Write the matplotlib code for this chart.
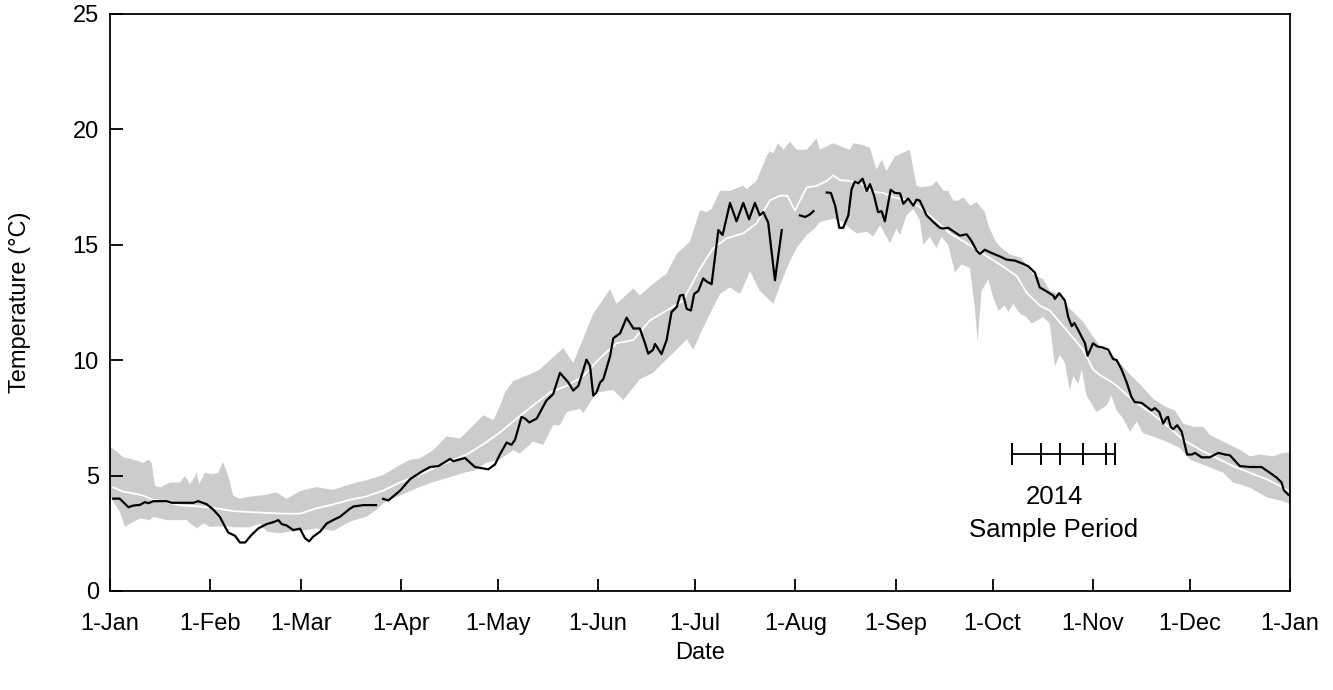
import numpy as np
import matplotlib
matplotlib.use("Agg")
import matplotlib.pyplot as plt

plt.rcParams["font.family"] = ["Liberation Sans", "DejaVu Sans"]

# Month starts (day of year) and their labels
month_days = [0, 31, 59, 90, 120, 151, 181, 212, 243, 273, 304, 334, 365]
month_labels = ["1-Jan", "1-Feb", "1-Mar", "1-Apr", "1-May", "1-Jun", "1-Jul",
                "1-Aug", "1-Sep", "1-Oct", "1-Nov", "1-Dec", "1-Jan"]

# 2014 daily temperature (NaN marks logger gaps)
obs_day = [1, 3, 5.7, 7.2, 9.3, 10.8, 11.9, 13.4, 17.5, 19.1, 25.8, 27.3, 29.9, 32, 34,
           35.6, 36.6, 38.7, 40.2, 41.8, 43.8, 45.9, 48.5, 50.5, 52.1, 53.1, 54.6, 56.7,
           58.8, 60.3, 61.6, 62.9, 65, 67, 69, 71.1, 74.2, 75.3, 78.4, 82.3, 83.4,
           84.5, 86.1, 89.7, 92.8, 96.4, 99, 101.6, 105.2, 106.2, 109.8, 112.9, 117,
           119.1, 120.6, 122.7, 124.2, 125.3, 127.3, 128.4, 129.7, 132, 135, 137.1,
           139.2, 141.8, 143.3, 144.9, 147.4, 148.5, 149.5, 150.5, 151.6, 152.6, 154.7,
           155.7, 157.8, 159.8, 161.9, 163.9, 165.5, 166.5, 168, 168.6, 170.6, 172.2,
           173.7, 175.3, 176.3, 177.3, 178.4, 179.7, 180.7, 182, 183.5, 184.6, 186.1,
           188.2, 189.5, 191.8, 193.8, 195.9, 197.7, 199.5, 201, 202.1, 203.6, 205.7,
           207.8, 210.5,
           213.4, 215, 216.4, 217.6, 219.5,
           221.7, 223, 224.3, 225.6, 226.8, 228.4, 229.4, 230.4, 231.5, 232.8, 234.1,
           235.1, 236.3, 237.6, 238.7, 239.7, 241.5, 242.8, 244.4, 245.4, 246.9, 248.5,
           249.5, 250.5, 252.6, 254.7, 256.7, 257.7, 259.3, 260.8, 262.9, 265, 266.5,
           268.1, 269.1, 270.6, 272.7, 275.3, 277.4, 279.9, 282.5, 284, 286.1, 287.6,
           289.7, 291.8, 292.3, 293.6, 295.4, 296.4, 297.5, 298.3, 299.5, 301.6, 302.4,
           304.1, 305.4, 307, 308.8, 310.3, 311.4, 312.9, 314.5, 316, 317, 319.1, 322.2,
           323.2, 324.6, 325.8, 326.8, 327.3, 328.1, 328.9, 330.1, 331.5, 333.2, 334.6,
           335.6, 337.7, 340.2, 342.8, 344.9, 346.4, 349.5, 352.6, 356.2, 358.8, 360.9,
           362.4, 363.1, 364.5]
obs_temp = [4.0, 4.0, 3.63, 3.7, 3.73, 3.85, 3.8, 3.89, 3.89, 3.82, 3.82, 3.89, 3.76, 3.52,
            3.21, 2.78, 2.53, 2.39, 2.1, 2.1, 2.43, 2.71, 2.9, 2.98, 3.07, 2.9, 2.84, 2.64,
            2.7, 2.29, 2.15, 2.36, 2.57, 2.92, 3.07, 3.21, 3.56, 3.66, 3.72, 3.72, np.nan,
            3.99, 3.92, 4.34, 4.84, 5.17, 5.37, 5.41, 5.72, 5.62, 5.76, 5.37, 5.27,
            5.48, 5.91, 6.43, 6.33, 6.55, 7.54, 7.47, 7.3, 7.47, 8.25, 8.53,
            9.45, 9.03, 8.68, 8.89, 10.02, 9.74, 8.46, 8.6, 9.03, 9.17, 10.17,
            10.95, 11.16, 11.84, 11.37, 11.37, 10.73, 10.28, 10.45, 10.7, 10.26, 10.87,
            12.08, 12.3, 12.79, 12.83, 12.22, 12.15, 12.86, 13.0, 13.54, 13.4, 13.29,
            15.63, 15.42, 16.81, 16.01, 16.81, 16.1, 16.81, 16.27, 16.41, 15.96, 13.46,
            15.63, np.nan,
            16.27, 16.2, 16.3, 16.45, np.nan,
            17.26, 17.24, 16.7, 15.73, 15.73, 16.27, 17.4, 17.73, 17.66, 17.86, 17.33,
            17.62, 17.15, 16.41, 16.45, 16.01, 17.38, 17.24, 17.22, 16.77, 17.0, 16.69,
            16.95, 16.91, 16.27, 15.98, 15.73, 15.7, 15.73, 15.59, 15.39, 15.45, 15.16,
            14.74, 14.6, 14.78, 14.64, 14.49, 14.35, 14.31, 14.17, 14.07, 13.79, 13.15,
            12.98, 12.79, 12.65, 12.9, 12.58, 11.87, 11.47, 11.61, 11.3, 10.73, 10.19,
            10.73, 10.59, 10.55, 10.45, 10.05, 10.0, 9.6, 9.03, 8.39, 8.18, 8.15, 7.82,
            7.92, 7.75, 7.25, 7.5, 7.54, 7.11, 7.01, 7.18, 6.9, 5.91, 5.91,
            5.98, 5.79, 5.79, 5.98, 5.91, 5.88, 5.41, 5.37, 5.37, 5.12, 4.91,
            4.7, 4.37, 4.17]

# Long-term daily mean
mean_day = [1, 4.1, 7.2, 10.3, 13.4, 17.5, 21.7, 27.8, 30.9, 34, 38.1, 43.3, 48.5, 53.6,
            58.8, 63.9, 69.1, 74.2, 79.4, 84.5, 89.7, 94.9, 100, 105.2, 110.3, 115.5,
            120.6, 125.8, 130.9, 136.1, 141.3, 146.4, 151.6, 156.7, 161.9, 167, 172.2,
            177.3, 182.5, 186.6, 190.8, 195.9, 200, 204.1, 207.2, 209.5, 211.9, 215.5,
            218.6, 221.7, 223.7, 225.8, 228.9, 232, 236.1, 239.2, 242.3, 247.4, 250.5,
            254.7, 259.8, 265, 270.1, 275.3, 280.5, 283.5, 287.6, 290.7, 295.9, 301,
            304.1, 306.2, 309.3, 311.4, 316.5, 321.7, 326.8, 332, 337.2, 342.3, 347.4,
            352.6, 357.8, 362.9, 364.5]
mean_temp = [4.49, 4.3, 4.23, 4.13, 3.95, 3.85, 3.71, 3.66, 3.61, 3.56, 3.46, 3.42, 3.38,
             3.35, 3.35, 3.58, 3.75, 3.95, 4.1, 4.35, 4.7, 4.98, 5.3, 5.63, 5.91, 6.36,
             6.86, 7.47, 8.04, 8.6, 8.89, 9.31, 10.09, 10.73, 10.87, 11.72, 12.15,
             12.58, 13.96, 14.85, 15.28, 15.49, 15.92, 16.91, 17.12, 17.12, 16.48, 17.48,
             17.55, 17.76, 18.0, 17.8, 17.76, 17.69, 17.29, 17.24, 17.05, 16.91, 16.62,
             16.13, 15.49, 15.06, 14.6, 14.14, 13.64, 12.93, 12.36, 12.15, 11.3, 10.45,
             9.6, 9.35, 9.1, 8.89, 8.25, 7.75, 7.18, 6.55, 6.12, 5.76, 5.41,
             5.12, 4.84, 4.48, 4.34]

# Long-term daily maximum
max_day = [0, 2, 4.1, 7.2, 10.3, 11.9, 12.9, 13.9, 15.5, 18.6, 21.7, 23.2, 24.7, 25.8,
           26.8, 27.6, 29.4, 31.5, 33.5, 35, 36.6, 38.1, 40.2, 43.3, 48.5, 51.6, 54.6,
           58.8, 63.9, 69.1, 74.2, 79.4, 84.5, 89.7, 92.8, 95.9, 100, 104.1, 108.3,
           112.4, 115.5, 118.6, 120.6, 122.2, 124.8, 131, 133, 140.2, 143.3, 149.5,
           154.7, 156.7, 161.9, 163.9, 168, 172.2, 175.3, 179.4, 182.5, 184.6, 186.1,
           188.7, 191.8, 195.9, 196.9, 200, 203.1, 204.1, 205.2, 206.7, 208.3, 210.3,
           212.4, 215.5, 218.6, 219.6, 223.7, 228.9, 229.9, 233, 235.1, 237.1, 238.7,
           240.2, 242.8, 247.4, 249.5, 251, 254.2, 255.7, 257.8, 259.3, 260.9, 262.4,
           264, 266, 268.1, 270.6, 271.7, 273.7, 275.3, 278.4, 282, 283.5, 285.6,
           288.7, 290.7, 293.8, 296.4, 298, 301, 304.1, 306.2, 310.3, 312.4, 315.5,
           318.6, 322.7, 326.8, 329.4, 332, 335.1, 338.2, 340.2, 345.4, 349.5, 352.6,
           355.7, 359.8, 362.9, 365]
max_temp = [6.25, 6.05, 5.79, 5.69, 5.55, 5.69, 5.55, 4.56, 4.48, 4.7, 4.7, 4.98, 4.63, 4.84,
            5.12, 4.63, 5.12, 5.06, 5.12, 5.59, 4.98, 4.13, 3.99, 4.09, 4.17, 4.27, 3.99,
            4.33, 4.5, 4.38, 4.62, 4.8, 5.02, 5.45, 5.69, 5.74, 6.1, 6.69, 6.6,
            7.18, 7.61, 7.4, 8.0, 8.6, 9.1, 9.45, 9.6, 10.52, 9.88, 12.01,
            13.07, 12.44, 13.1, 12.8, 13.3, 13.75, 14.6, 15.13, 16.5, 16.41, 16.55,
            17.33, 17.33, 17.55, 17.4, 17.76, 18.82, 19.04, 18.97, 19.39, 19.11, 19.46,
            19.11, 19.11, 19.6, 19.11, 19.39, 19.11, 19.39, 19.32, 19.18, 18.26, 18.68,
            18.19, 18.82, 19.11, 17.55, 17.48, 17.55, 17.76, 17.33, 17.33, 16.91, 16.91,
            17.05, 16.69, 16.84, 16.41, 15.84, 15.2, 14.92, 14.57, 14.43, 14.07, 13.71,
            13.5, 13.0, 12.86, 12.3, 12.08, 11.66, 11.02, 10.62, 10.17, 9.88, 9.38,
            8.96, 8.32, 7.96, 7.82, 7.25, 7.11, 7.11, 6.76, 6.4, 6.12, 5.83,
            5.91, 5.83, 5.98, 6.0]

# Long-term daily minimum
min_day = [0, 3.1, 4.6, 7.2, 9.3, 12.4, 13.4, 17.5, 23.7, 26.8, 28.9, 30.9, 36.1, 38.1,
           43.3, 46.4, 48.5, 52.6, 55.7, 58.8, 60.8, 63.9, 69.1, 74.2, 79.4, 82.3, 85.6,
           89.7, 94.9, 100, 105.2, 110.3, 112.4, 116.5, 120.6, 124.8, 126.8, 130.9, 134,
           137.1, 139.2, 141.3, 145.4, 146.4, 150.5, 155.7, 158.8, 163.9, 168, 174.2,
           178.4, 180.4, 182.5, 185.6, 188.7, 191.8, 194.9, 198, 201, 205.2, 207.8,
           210.3, 212.4, 215.5, 218.1, 219.6, 221.7, 223.7, 226.8, 228.9, 231, 234.1,
           236.1, 238.2, 241.3, 243.3, 244.4, 246.4, 248.5, 250.5, 251.6, 253.6, 255.7,
           257.2, 259.3, 261.4, 263.4, 266, 267.6, 268.4, 269.6, 271.7, 273.2, 274.8,
           276.8, 277.9, 279.4, 281.5, 283.5, 285.1, 288.7, 290.7, 292.3, 293.8, 295.4,
           296.9, 298, 299.5, 300.6, 302.1, 305.2, 308.3, 309.8, 311.4, 313.4, 315.5,
           317.6, 319.6, 322.7, 326.8, 331, 334.1, 339.2, 344.4, 347.4, 352.6, 357.8,
           361.9, 365]
min_temp = [4.09, 3.42, 2.78, 2.99, 3.14, 3.07, 3.21, 3.07, 3.07, 2.71, 2.93, 2.78, 2.81, 2.76,
            2.76, 2.93, 2.57, 2.5, 2.57, 2.61, 2.64, 2.71, 2.6, 3.0, 3.22, 3.5, 3.92,
            4.13, 4.45, 4.72, 4.93, 5.15, 5.2, 5.55, 5.7, 6.1, 5.95, 6.47, 6.33,
            7.18, 7.18, 7.75, 7.89, 7.7, 8.6, 8.7, 8.27, 9.17, 9.45, 10.31,
            10.9, 10.45, 11.1, 12.01, 12.86, 13.15, 12.86, 13.85, 13.0, 12.44, 13.43,
            14.28, 14.85, 15.42, 15.7, 15.98, 16.06, 16.13, 15.98, 15.7, 15.49, 15.56,
            15.35, 15.84, 15.06, 15.7, 15.42, 16.27, 16.55, 16.06, 14.99, 15.34, 14.85,
            15.34, 14.99, 13.79, 14.14, 14.0, 12.15, 10.8, 13.0, 13.5, 12.72, 12.15,
            12.36, 12.08, 12.44, 12.01, 11.87, 11.58, 11.87, 11.58, 9.74, 10.23, 9.88,
            8.68, 9.31, 8.96, 9.6, 8.46, 7.75, 8.04, 8.46, 7.82, 7.47, 6.9,
            7.33, 6.83, 6.69, 6.47, 6.19, 5.69, 5.41, 5.12, 4.7, 4.48, 4.06,
            3.92, 3.78]

# 2014 sampling dates
sample_days = [279, 288, 294, 301, 308, 311]
sample_level = 5.95

fig = plt.figure(figsize=(13.33, 6.9), dpi=100)
ax = fig.add_axes([0.0825, 0.1435, 0.8852, 0.8365])

band_x = np.concatenate([max_day, min_day[::-1]])
band_y = np.concatenate([max_temp, min_temp[::-1]])
ax.fill(band_x, band_y, color="#cccccc", lw=0, zorder=1)
ax.plot(mean_day, mean_temp, color="white", lw=1.3, zorder=2)
ax.plot(obs_day, obs_temp, color="black", lw=1.6, zorder=3)

# sample period bar
ax.plot([sample_days[0], sample_days[-1]], [sample_level, sample_level],
        color="black", lw=1.3, zorder=4)
ax.plot(sample_days, [sample_level] * len(sample_days), ls="none", marker="|",
        markersize=16, markeredgewidth=1.4, color="black", zorder=4)
ax.text(292, 4.06, "2014", ha="center", va="center", fontsize=18.5)
ax.text(292, 2.64, "Sample Period", ha="center", va="center", fontsize=18.5)

ax.set_xlim(0, 365)
ax.set_ylim(0, 25)
ax.set_xticks(month_days)
ax.set_xticklabels(month_labels)
ax.set_yticks([0, 5, 10, 15, 20, 25])
ax.tick_params(direction="in", length=9, width=1.3, labelsize=17)
ax.tick_params(axis="x", pad=16)
ax.tick_params(axis="y", pad=8)
for s in ax.spines.values():
    s.set_linewidth(1.3)

ax.set_xlabel("Date", fontsize=17)
ax.set_ylabel("Temperature (°C)", fontsize=17)
ax.xaxis.set_label_coords(0.5, -0.088)
ax.yaxis.set_label_coords(-0.067, 0.5)

fig.savefig("out.png", dpi=100)
